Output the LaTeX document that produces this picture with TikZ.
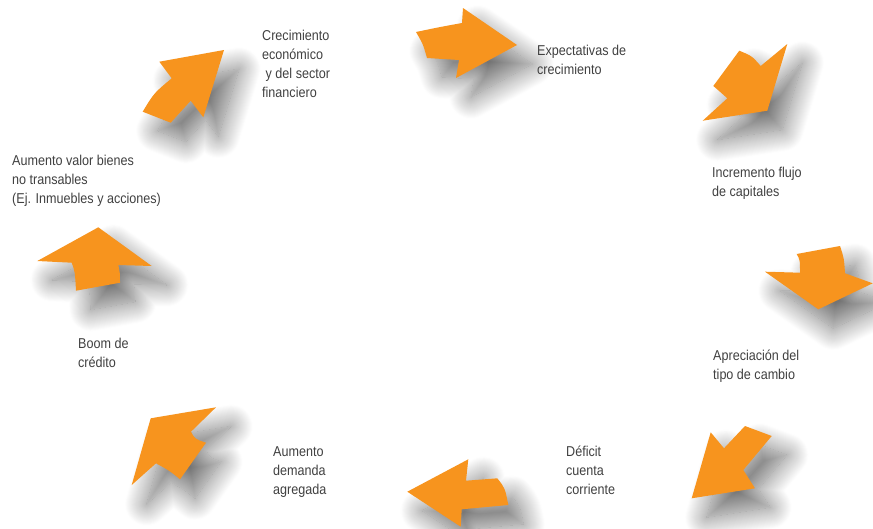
\documentclass[tikz,border=0pt]{standalone}
\usepackage{fontspec}
\setmainfont{Liberation Sans}[FakeStretch=0.88]
\usetikzlibrary{shadows.blur}
\definecolor{naranja}{RGB}{247,148,30}
\definecolor{texto}{RGB}{64,64,64}

\begin{document}
\begin{tikzpicture}[x=1pt, y=-1pt,
    flecha/.style={fill=naranja, draw=none,
      blur shadow={shadow xshift=15pt, shadow yshift=-19pt,
        shadow blur radius=22pt, shadow blur steps=24, shadow opacity=55}},
    etiqueta/.style={anchor=north west, inner sep=0pt, align=left,
      text=texto, font=\fontsize{14.3}{19}\selectfont}]
  \useasboundingbox (0,0) rectangle (873,528);

  % flechas del ciclo
  \path[flecha] (416,32) .. controls (440,27) .. (462,23) -- (463,8) -- (517,45)
    -- (456,78) -- (459,60) -- (427,58) .. controls (423,44) .. (416,32) -- cycle;
  \path[flecha] (739.3,50.7) .. controls (752,56) .. (760.7,66) -- (787.3,44) -- (767.3,110.7)
    -- (702.7,120.7) -- (727.3,98.3) .. controls (718,90) .. (713.3,86) -- cycle;
  \path[flecha] (796.7,254) -- (840,246) .. controls (844,258) .. (845,273.3) -- (872.7,283.3)
    -- (818.3,309.3) -- (765,271.7) -- (800,272.7) .. controls (800,260) .. (796.7,254) -- cycle;
  \path[flecha] (745,426) -- (771.7,436) -- (743.3,470) -- (755,488.3) -- (691.7,498.3)
    -- (710.7,432.3) -- (724,448.3) -- cycle;
  \path[flecha] (407.3,491.7) -- (468.3,459.3) -- (466,480.7) -- (497.3,478.3)
    .. controls (505,488) .. (508.3,505) -- (461.7,509.3) -- (460.7,526.7) -- cycle;
  \path[flecha] (150.7,418.3) -- (216,407.3) -- (191,431.7) .. controls (195,439) .. (206,442.7)
    -- (180,479.3) .. controls (170,471) .. (156,463.3) -- (131.7,485) -- cycle;
  \path[flecha] (98.3,227.3) -- (151.7,266) -- (118.3,265) .. controls (120,273) .. (120,282.7)
    -- (76,290.7) .. controls (75,272) .. (71.7,262.7) -- (37.3,261) -- cycle;
  \path[flecha] (224,50) -- (203.3,117.3) -- (190.7,100.7) .. controls (180,112) .. (170.7,122.7)
    -- (142.7,111.7) .. controls (154,93) .. (171.7,78.3) -- (159.3,61.7) -- cycle;

  % textos
  \node[etiqueta] (crecimiento) at (262,30) {Crecimiento\\econ\'omico\\\ y del sector\\financiero};
  \node[etiqueta] (expectativas) at (537,45) {Expectativas de\\crecimiento};
  \node[etiqueta] (flujo) at (712,167) {Incremento flujo\\de capitales};
  \node[etiqueta] (apreciacion) at (713,350) {Apreciaci\'on del\\tipo de cambio};
  \node[etiqueta] (deficit) at (566,446) {D\'eficit\\cuenta\\corriente};
  \node[etiqueta] (demanda) at (273,446) {Aumento\\demanda\\agregada};
  \node[etiqueta] (boom) at (78,338) {Boom de\\cr\'edito};
  \node[etiqueta] (bienes) at (12,155) {Aumento valor bienes\\no transables\\(Ej. Inmuebles y acciones)};
\end{tikzpicture}
\end{document}
